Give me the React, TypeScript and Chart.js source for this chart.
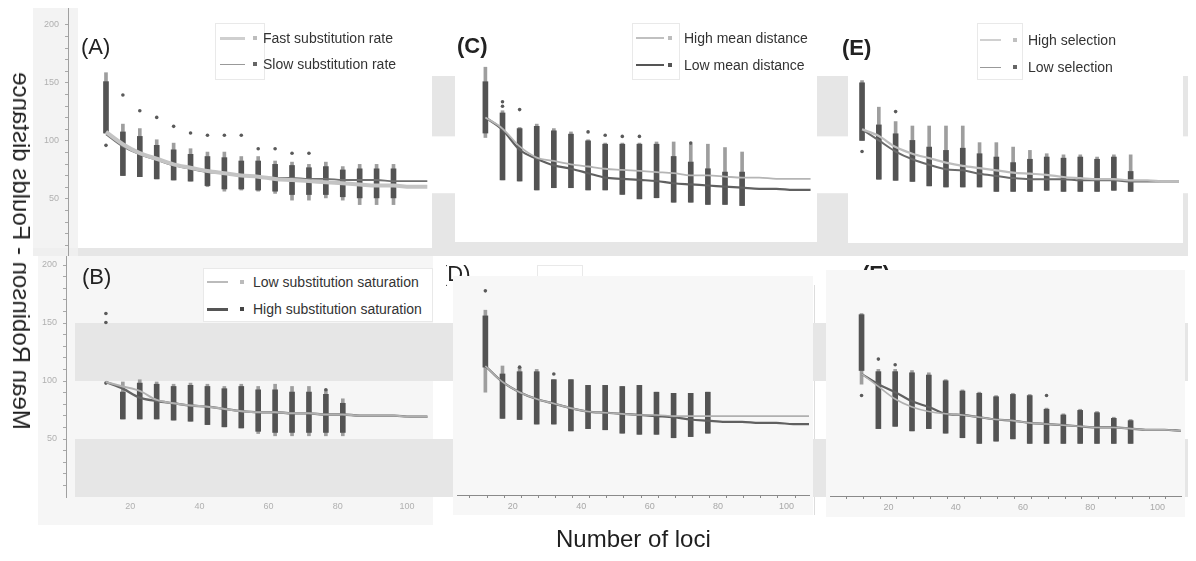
import React, { useEffect, useRef } from 'react';
import { Chart, registerables } from 'chart.js';
Chart.register(...registerables);

const FONT = '"Liberation Sans", Arial, Helvetica, sans-serif';

// ---------- data ----------
const lineX = [12, 17, 22, 27, 32, 37, 42, 47, 52, 57, 62, 67, 72, 77, 82, 87, 92, 97, 102, 107];

// Panel A
const lociA = [12, 17, 22, 27, 32, 37, 42, 47, 52, 57, 62, 67, 72, 77, 82, 87, 92, 97];
const aTop = [161, 115, 111, 101, 98, 93, 90, 90, 86, 86, 82, 81, 79, 81, 77, 79, 79, 79];
const aCoreTop = [153, 108, 104, 96, 92, 88, 86, 85, 82, 82, 79, 78, 76, 77, 74, 75, 75, 75];
const aCoreBottom = [107, 69, 68, 66, 65, 64, 60, 57, 57, 56, 55, 52, 52, 52, 50, 49, 49, 49];
const aBottom = [107, 69, 68, 66, 65, 64, 59, 55, 56, 55, 53, 47, 47, 49, 47, 43, 43, 43];
const aOutX = [12, 17, 22, 27, 32, 37, 42, 47, 52, 57, 62, 67, 72];
const aOutY = [96, 141, 127, 121, 113, 107, 105, 105, 105, 93, 93, 89, 89];
const aFast = [108, 97, 89, 84, 79, 76, 73, 71, 69, 68, 66, 65, 64, 63, 62, 61, 60, 60, 59, 59];
const aSlow = [106, 95, 88, 83, 78, 75, 72, 71, 69, 68, 67, 67, 66, 66, 65, 65, 65, 64, 64, 64];

// Panel C
const lociC = [12, 17, 22, 27, 32, 37, 42, 47, 52, 57, 62, 67, 72, 77, 82, 87];
const cTop = [166, 127, 112, 115, 111, 108, 101, 98, 98, 98, 99, 99, 97, 97, 94, 90];
const cCoreTop = [153, 125, 111, 113, 109, 106, 100, 97, 97, 97, 97, 86, 81, 75, 72, 72];
const cCoreBottom = [107, 65, 64, 56, 58, 58, 56, 56, 52, 48, 49, 45, 45, 43, 43, 42];
const cBottom = [103, 65, 64, 56, 58, 58, 56, 56, 52, 48, 49, 45, 45, 43, 43, 42];
const cOutX = [17, 17, 22, 42, 47, 52, 57, 72];
const cOutY = [135, 131, 128, 108, 105, 104, 104, 98];
const cHigh = [121, 111, 95, 85, 82, 79, 77, 75, 74, 73, 72, 71, 69, 69, 68, 67, 67, 66, 66, 66];
const cLow = [121, 110, 92, 84, 78, 75, 71, 67, 66, 65, 64, 62, 61, 60, 59, 58, 57, 57, 56, 56];

// Panel E
const lociE = [12, 17, 22, 27, 32, 37, 42, 47, 52, 57, 62, 67, 72, 77, 82, 87, 92];
const eTop = [155, 131, 118, 114, 114, 114, 114, 99, 99, 95, 92, 89, 88, 88, 86, 88, 88];
const eCoreTop = [153, 115, 107, 101, 95, 92, 94, 89, 86, 81, 84, 86, 85, 86, 84, 86, 73];
const eCoreBottom = [101, 66, 65, 64, 60, 59, 59, 59, 55, 55, 55, 56, 55, 55, 55, 56, 55];
const eBottom = [101, 66, 65, 64, 60, 59, 59, 59, 55, 55, 55, 56, 55, 55, 55, 56, 55];
const eOutX = [12, 22];
const eOutY = [91, 127];
const eHigh = [111, 105, 95, 89, 85, 81, 78, 76, 74, 72, 71, 70, 68, 67, 66, 66, 65, 65, 64, 64];
const eLow = [111, 101, 91, 84, 79, 75, 74, 71, 69, 67, 66, 66, 66, 65, 65, 65, 64, 64, 64, 64];

// Panel B
const lociB = [17, 22, 27, 32, 37, 42, 47, 52, 57, 62, 67, 72, 77, 82];
const bTop = [99, 101, 99, 97, 98, 97, 95, 97, 95, 97, 95, 95, 92, 84];
const bCoreTop = [90, 98, 97, 95, 96, 95, 93, 95, 92, 92, 90, 90, 88, 80];
const bCoreBottom = [66, 66, 66, 65, 64, 61, 59, 58, 55, 54, 54, 54, 54, 54];
const bBottom = [66, 66, 66, 65, 64, 61, 59, 58, 53, 51, 51, 51, 51, 51];
const bOutX = [12, 12, 12, 77];
const bOutY = [160, 152, 98, 92];
const bLow = [99, 95, 91, 83, 80, 78, 77, 75, 73, 72, 72, 71, 71, 70, 70, 69, 69, 69, 68, 68];
const bHigh = [99, 93, 85, 82, 80, 78, 77, 75, 73, 72, 72, 71, 71, 70, 70, 69, 69, 69, 68, 68];

// Panel D
const lociD = [12, 17, 22, 27, 32, 37, 42, 47, 52, 57, 62, 67, 72, 77];
const dTop = [164, 115, 114, 112, 103, 103, 98, 98, 97, 98, 92, 91, 91, 92];
const dCoreTop = [159, 108, 110, 110, 103, 103, 98, 98, 97, 98, 92, 91, 91, 92];
const dCoreBottom = [114, 69, 68, 64, 64, 58, 60, 59, 56, 55, 55, 52, 53, 56];
const dBottom = [92, 69, 68, 64, 64, 58, 60, 59, 56, 55, 55, 52, 53, 56];
const dOutX = [12, 22, 32];
const dOutY = [181, 114, 108];
const dHigh = [115, 101, 92, 86, 82, 78, 75, 74, 73, 72, 72, 71, 71, 71, 71, 71, 71, 71, 71, 71];
const dLow = [115, 101, 92, 86, 82, 78, 75, 74, 73, 72, 71, 70, 68, 67, 66, 66, 65, 65, 64, 64];

// Panel F
const lociF = [12, 17, 22, 27, 32, 37, 42, 47, 52, 57, 62, 67, 72, 77, 82, 87, 92];
const fTop = [161, 112, 112, 111, 109, 103, 94, 92, 89, 91, 90, 78, 73, 77, 75, 70, 68];
const fCoreTop = [160, 110, 110, 109, 107, 102, 93, 91, 88, 90, 89, 77, 72, 76, 74, 69, 67];
const fCoreBottom = [111, 60, 62, 58, 60, 56, 52, 47, 49, 51, 47, 47, 47, 47, 47, 47, 47];
const fBottom = [99, 60, 62, 58, 60, 56, 52, 47, 49, 51, 47, 47, 47, 47, 47, 47, 47];
const fOutX = [12, 17, 22, 67];
const fOutY = [89, 121, 116, 89];
const fLight = [108, 97, 86, 79, 75, 73, 72, 70, 68, 67, 65, 64, 63, 62, 61, 61, 60, 59, 59, 58];
const fDark = [108, 99, 92, 84, 79, 73, 72, 70, 68, 67, 65, 64, 63, 62, 61, 61, 60, 59, 59, 58];

// axes / bands
const yTickVals = [10, 20, 30, 40, 50, 60, 70, 80, 90, 100, 110, 120, 130, 140, 150, 160, 170, 180, 190, 200];
const xLabelVals = [20, 40, 60, 80, 100];
const xMinorVals = [5, 10, 15, 20, 25, 30, 35, 40, 45, 50, 55, 60, 65, 70, 75, 80, 85, 90, 95, 100, 105];
const topBands = [[104, 156], [0, 55]];
const bottomBands = [[100, 150], [0, 50]];

const legendA = ['Fast substitution rate', 'Slow substitution rate'];
const legendB = ['Low substitution saturation', 'High substitution saturation'];
const legendC = ['High mean distance', 'Low mean distance'];
const legendE = ['High selection', 'Low selection'];

// ---------- helpers ----------
const OX = 8;
const OY = 8;
const pts = (xs: number[], ys: number[]) => xs.map((x, i) => ({ x, y: ys[i] }));
const floats = (xs: number[], lo: number[], hi: number[]) => xs.map((x, i) => ({ x, y: [lo[i], hi[i]] }));

const fillPlugin = {
  id: 'fills',
  beforeDraw(chart: any, _a: any, opts: any) {
    const ctx = chart.ctx;
    ctx.save();
    if (opts.bg) {
      ctx.fillStyle = opts.bg;
      ctx.fillRect(0, 0, chart.width, chart.height);
    }
    (opts.rects || []).forEach((r: any) => {
      ctx.fillStyle = r.c;
      ctx.fillRect(r.x0 - opts.ox, r.y0 - opts.oy, r.x1 - r.x0, r.y1 - r.y0);
    });
    const ys = chart.scales.y;
    (opts.bands || []).forEach((b: number[]) => {
      const t = ys.getPixelForValue(b[1]);
      const bt = ys.getPixelForValue(b[0]);
      ctx.fillStyle = opts.bandColor;
      ctx.fillRect(opts.bandX - opts.ox, t, chart.width, bt - t);
    });
    ctx.restore();
  },
};

function ChartBox({ x0, y0, x1, y1, z, config }: any) {
  const ref = useRef<HTMLCanvasElement>(null);
  useEffect(() => {
    const chart = new Chart(ref.current as HTMLCanvasElement, config);
    return () => chart.destroy();
  }, []);
  const w = x1 - x0;
  const h = y1 - y0;
  return (
    <canvas
      ref={ref}
      width={w}
      height={h}
      style={{ position: 'absolute', left: x0 - OX, top: y0 - OY, width: w, height: h, zIndex: z }}
    />
  );
}

function panelConfig(p: any) {
  const datasets: any[] = [
    {
      type: 'line', data: pts(lineX, p.light), borderColor: p.lightColor, borderWidth: p.lightW,
      pointRadius: 0, cubicInterpolationMode: 'monotone', order: 0,
    },
    {
      type: 'line', data: pts(lineX, p.dark), borderColor: p.darkColor, borderWidth: p.darkW,
      pointRadius: 0, cubicInterpolationMode: 'monotone', order: 0,
    },
    {
      type: 'bar', data: floats(p.loci, p.bottom, p.top), backgroundColor: '#9e9e9e',
      barThickness: 3, grouped: false, borderWidth: 0, order: 3,
    },
    {
      type: 'bar', data: floats(p.loci, p.coreBottom, p.coreTop), backgroundColor: '#535353',
      barThickness: 5, grouped: false, borderWidth: 0, order: 2,
    },
    {
      type: 'scatter', data: pts(p.outX, p.outY), pointRadius: 1.8, backgroundColor: '#5a5a5a',
      borderWidth: 0, order: 1,
    },
  ];
  const xScale: any = { type: 'linear', min: p.xr[0], max: p.xr[1], offset: false, display: false };
  if (p.axisH) {
    Object.assign(xScale, {
      display: true,
      position: 'bottom',
      afterBuildTicks: (s: any) => { s.ticks = xMinorVals.map((v) => ({ value: v })); },
      afterFit: (s: any) => { s.height = p.axisH; s.paddingLeft = 0; s.paddingRight = 0; },
      border: { display: true, color: '#8a8a8a', width: 1 },
      grid: { drawOnChartArea: false, drawTicks: true, tickLength: 3, color: '#8a8a8a' },
      ticks: {
        color: '#a8a8a8', font: { size: 9, family: FONT }, padding: 3, autoSkip: false, maxRotation: 0,
        callback: (v: any) => (v % 20 === 0 ? String(v) : ''),
      },
    });
  }
  return {
    type: 'bar',
    data: { datasets },
    plugins: [fillPlugin],
    options: {
      animation: false,
      responsive: false,
      events: [],
      layout: { padding: 0 },
      plugins: {
        legend: { display: false },
        tooltip: { enabled: false },
        fills: { bg: p.bg, ox: 0, oy: 0 },
      },
      scales: {
        x: xScale,
        y: { type: 'linear', min: p.yr[0], max: p.yr[1], display: false },
      },
    },
  };
}

function bgConfig(o: any) {
  const scales: any = {
    y: {
      type: 'linear', position: 'left', min: o.yr[0], max: o.yr[1],
      afterBuildTicks: (s: any) => { s.ticks = yTickVals.map((v) => ({ value: v })); },
      afterFit: (s: any) => { s.width = o.yW; s.paddingTop = 0; s.paddingBottom = 0; },
      border: { display: true, color: '#a0a0a0' },
      grid: { drawOnChartArea: false, tickLength: 3, color: '#a8a8a8' },
      ticks: {
        color: '#b0b0b0', font: { size: 9, family: FONT }, padding: 6, autoSkip: false,
        callback: (v: any) => (v % 50 === 0 ? String(v) : ''),
      },
    },
  };
  if (o.xAxisH) {
    scales.x = {
      type: 'linear', position: 'bottom', min: o.xr[0], max: o.xr[1], offset: false,
      afterBuildTicks: (s: any) => { s.ticks = xLabelVals.map((v) => ({ value: v })); },
      afterFit: (s: any) => { s.height = o.xAxisH; s.paddingLeft = 0; s.paddingRight = 0; },
      border: { display: false },
      grid: { display: false, drawTicks: false },
      ticks: { color: '#b0b0b0', font: { size: 9, family: FONT }, padding: 4, autoSkip: false, maxRotation: 0 },
    };
  } else {
    scales.x = { type: 'linear', min: 0, max: 1, display: false };
  }
  return {
    type: 'scatter',
    data: { datasets: [] },
    plugins: [fillPlugin],
    options: {
      animation: false,
      responsive: false,
      events: [],
      layout: { padding: 0 },
      plugins: {
        legend: { display: false },
        tooltip: { enabled: false },
        fills: { bg: '#ffffff', ox: o.x0, oy: o.y0, rects: o.rects, bands: o.bands, bandColor: '#e6e6e6', bandX: o.bandX },
      },
      scales,
    },
  };
}

// ---------- text helpers ----------
function Txt({ x, y, size, weight, children, z, color }: any) {
  return (
    <div style={{
      position: 'absolute', left: x - OX, top: y - OY, fontFamily: FONT, fontSize: size,
      fontWeight: weight || 'normal', color: color || '#222', lineHeight: 1, whiteSpace: 'nowrap', zIndex: z || 3,
    }}>{children}</div>
  );
}

function Legend({ box, rows, z }: any) {
  return (
    <>
      <div style={{
        position: 'absolute', left: box[0] - OX, top: box[1] - OY, width: box[2] - box[0], height: box[3] - box[1],
        background: '#fff', border: '1px solid #e9e9e9', boxSizing: 'border-box', zIndex: z,
      }} />
      {rows.map((r: any, i: number) => (
        <React.Fragment key={i}>
          <div style={{
            position: 'absolute', left: r.lx0 - OX, top: r.cy - r.lw / 2 - OY, width: r.lx1 - r.lx0, height: r.lw,
            background: r.lc, zIndex: z,
          }} />
          <div style={{
            position: 'absolute', left: r.mx - 2 - OX, top: r.cy - 2 - OY, width: 4, height: 4,
            background: r.mc, zIndex: z,
          }} />
          <div style={{
            position: 'absolute', left: r.tx - OX, top: r.cy - 8 - OY, fontFamily: FONT, fontSize: 14,
            lineHeight: '16px', color: '#333', whiteSpace: 'nowrap', zIndex: z,
          }}>{r.text}</div>
        </React.Fragment>
      ))}
    </>
  );
}

// ---------- configs ----------
const topBg = bgConfig({
  x0: 33, y0: 5, yr: [0.86, 217.24], yW: 35, bandX: 78, bands: topBands,
  rects: [
    { x0: 33, y0: 7, x1: 78, y1: 256, c: '#f3f3f3' },
    { x0: 33, y0: 248, x1: 433, y1: 256, c: '#efefef' },
    { x0: 433, y0: 242, x1: 1192, y1: 256, c: '#e9e9e9' },
  ],
});
const bottomBg = bgConfig({
  x0: 38, y0: 256, yr: [0, 207.76], yW: 28, bandX: 75, bands: bottomBands,
  xAxisH: 33, xr: [1.445, 326.9],
  rects: [
    { x0: 38, y0: 256, x1: 433, y1: 525, c: '#f6f6f6' },
    { x0: 814, y0: 285, x1: 815, y1: 515, c: '#dddddd' },
  ],
});

const cfgA = panelConfig({
  bg: '#ffffff', xr: [4.91, 107.2], yr: [7.76, 197.4], loci: lociA, top: aTop, coreTop: aCoreTop,
  coreBottom: aCoreBottom, bottom: aBottom, outX: aOutX, outY: aOutY,
  light: aFast, lightColor: '#c4c4c4', lightW: 4, dark: aSlow, darkColor: '#707070', darkW: 1.8,
});
const cfgC = panelConfig({
  bg: '#ffffff', xr: [4.29, 107.71], yr: [12.93, 193.97], loci: lociC, top: cTop, coreTop: cCoreTop,
  coreBottom: cCoreBottom, bottom: cBottom, outX: cOutX, outY: cOutY,
  light: cHigh, lightColor: '#b5b5b5', lightW: 1.8, dark: cLow, darkColor: '#606060', darkW: 2.2,
});
const cfgE = panelConfig({
  bg: '#ffffff', xr: [9.01, 106.4], yr: [12.07, 167.24], loci: lociE, top: eTop, coreTop: eCoreTop,
  coreBottom: eCoreBottom, bottom: eBottom, outX: eOutX, outY: eOutY,
  light: eHigh, lightColor: '#bdbdbd', lightW: 2.2, dark: eLow, darkColor: '#6a6a6a', darkW: 2,
});
const cfgB = panelConfig({
  bg: null, xr: [4.05, 109.54], yr: [0, 207.76], loci: lociB, top: bTop, coreTop: bCoreTop,
  coreBottom: bCoreBottom, bottom: bBottom, outX: bOutX, outY: bOutY,
  light: bLow, lightColor: '#b0b0b0', lightW: 2, dark: bHigh, darkColor: '#646464', darkW: 2.4,
});
const cfgD = panelConfig({
  bg: '#f7f7f7', xr: [3.71, 106.57], yr: [1.72, 190.52], axisH: 20, loci: lociD, top: dTop, coreTop: dCoreTop,
  coreBottom: dCoreBottom, bottom: dBottom, outX: dOutX, outY: dOutY,
  light: dHigh, lightColor: '#b0b0b0', lightW: 1.6, dark: dLow, darkColor: '#606060', darkW: 2.2,
});
const cfgF = panelConfig({
  bg: '#f7f7f7', xr: [2.62, 106.98], yr: [0.86, 195.69], axisH: 21, loci: lociF, top: fTop, coreTop: fCoreTop,
  coreBottom: fCoreBottom, bottom: fBottom, outX: fOutX, outY: fOutY,
  light: fLight, lightColor: '#b0b0b0', lightW: 1.6, dark: fDark, darkColor: '#606060', darkW: 2.2,
});

export default function App() {
  return (
    <div style={{ position: 'relative', width: 1180, height: 545, overflow: 'hidden', background: '#fff' }}>
      <ChartBox x0={38} y0={256} x1={1192} y1={530} z={0} config={bottomBg} />
      <ChartBox x0={33} y0={5} x1={1192} y1={256} z={1} config={topBg} />

      <ChartBox x0={78} y0={28} x1={432} y1={248} z={2} config={cfgA} />
      <ChartBox x0={455} y0={32} x1={817} y1={242} z={2} config={cfgC} />
      <ChartBox x0={848} y0={63} x1={1183} y1={243} z={2} config={cfgE} />
      <ChartBox x0={75} y0={256} x1={440} y1={497} z={2} config={cfgB} />

      {/* labels partly hidden behind D and F */}
      <div style={{ position: 'absolute', left: 446 - OX, top: 258 - OY, width: 40, height: 30, overflow: 'hidden', zIndex: 3 }}>
        <div style={{ position: 'absolute', left: -6, top: 5, fontFamily: FONT, fontSize: 22, lineHeight: 1, color: '#222' }}>(D)</div>
      </div>
      <Legend z={3} box={[537, 265, 583, 292]} rows={[
        { cy: 284, lx0: 541, lx1: 566, lw: 1.5, lc: '#bbb', mx: 573, mc: '#bbb', tx: 591, text: legendC[0] },
      ]} />
      <Txt x={862} y={263} size={22} weight="bold" z={3}>(F)</Txt>

      <ChartBox x0={453} y0={276} x1={813} y1={515} z={4} config={cfgD} />
      <ChartBox x0={826} y0={270} x1={1185} y1={517} z={4} config={cfgF} />

      <Legend z={5} box={[215, 23, 265, 80]} rows={[
        { cy: 38, lx0: 220, lx1: 245, lw: 3, lc: '#cfcfcf', mx: 255, mc: '#bdbdbd', tx: 263, text: legendA[0] },
        { cy: 64, lx0: 220, lx1: 245, lw: 1, lc: '#999', mx: 255, mc: '#666', tx: 263, text: legendA[1] },
      ]} />
      <Legend z={5} box={[632, 23, 680, 80]} rows={[
        { cy: 38, lx0: 636, lx1: 664, lw: 1.5, lc: '#c0c0c0', mx: 670, mc: '#bdbdbd', tx: 684, text: legendC[0] },
        { cy: 65, lx0: 636, lx1: 664, lw: 2, lc: '#555', mx: 670, mc: '#555', tx: 684, text: legendC[1] },
      ]} />
      <Legend z={5} box={[977, 23, 1023, 80]} rows={[
        { cy: 40, lx0: 980, lx1: 1001, lw: 2.5, lc: '#d0d0d0', mx: 1015, mc: '#c0c0c0', tx: 1028, text: legendE[0] },
        { cy: 67, lx0: 980, lx1: 1001, lw: 1, lc: '#999', mx: 1015, mc: '#666', tx: 1028, text: legendE[1] },
      ]} />
      <Legend z={5} box={[203, 268, 433, 322]} rows={[
        { cy: 282, lx0: 207, lx1: 228, lw: 1.5, lc: '#bbb', mx: 242, mc: '#bbb', tx: 253, text: legendB[0] },
        { cy: 309, lx0: 207, lx1: 228, lw: 3, lc: '#555', mx: 242, mc: '#444', tx: 253, text: legendB[1] },
      ]} />

      <Txt x={81} y={36} size={22}>(A)</Txt>
      <Txt x={82} y={266} size={22}>(B)</Txt>
      <Txt x={457} y={35} size={22} weight="bold">(C)</Txt>
      <Txt x={842} y={37} size={22} weight="bold">(E)</Txt>

      <Txt x={556} y={527} size={24} color="#1e1e1e">Number of loci</Txt>

      <div style={{
        position: 'absolute', left: 21 - OX, top: 251 - OY, width: 0, height: 0, zIndex: 6,
      }}>
        <div style={{
          position: 'absolute', left: 0, top: 0, transform: 'translate(-50%, -50%) rotate(-90deg) scaleY(-1)',
          fontFamily: FONT, fontSize: 24, lineHeight: 1, color: '#1e1e1e', whiteSpace: 'nowrap',
        }}>Mean Robinson - Foulds distance</div>
      </div>
    </div>
  );
}
